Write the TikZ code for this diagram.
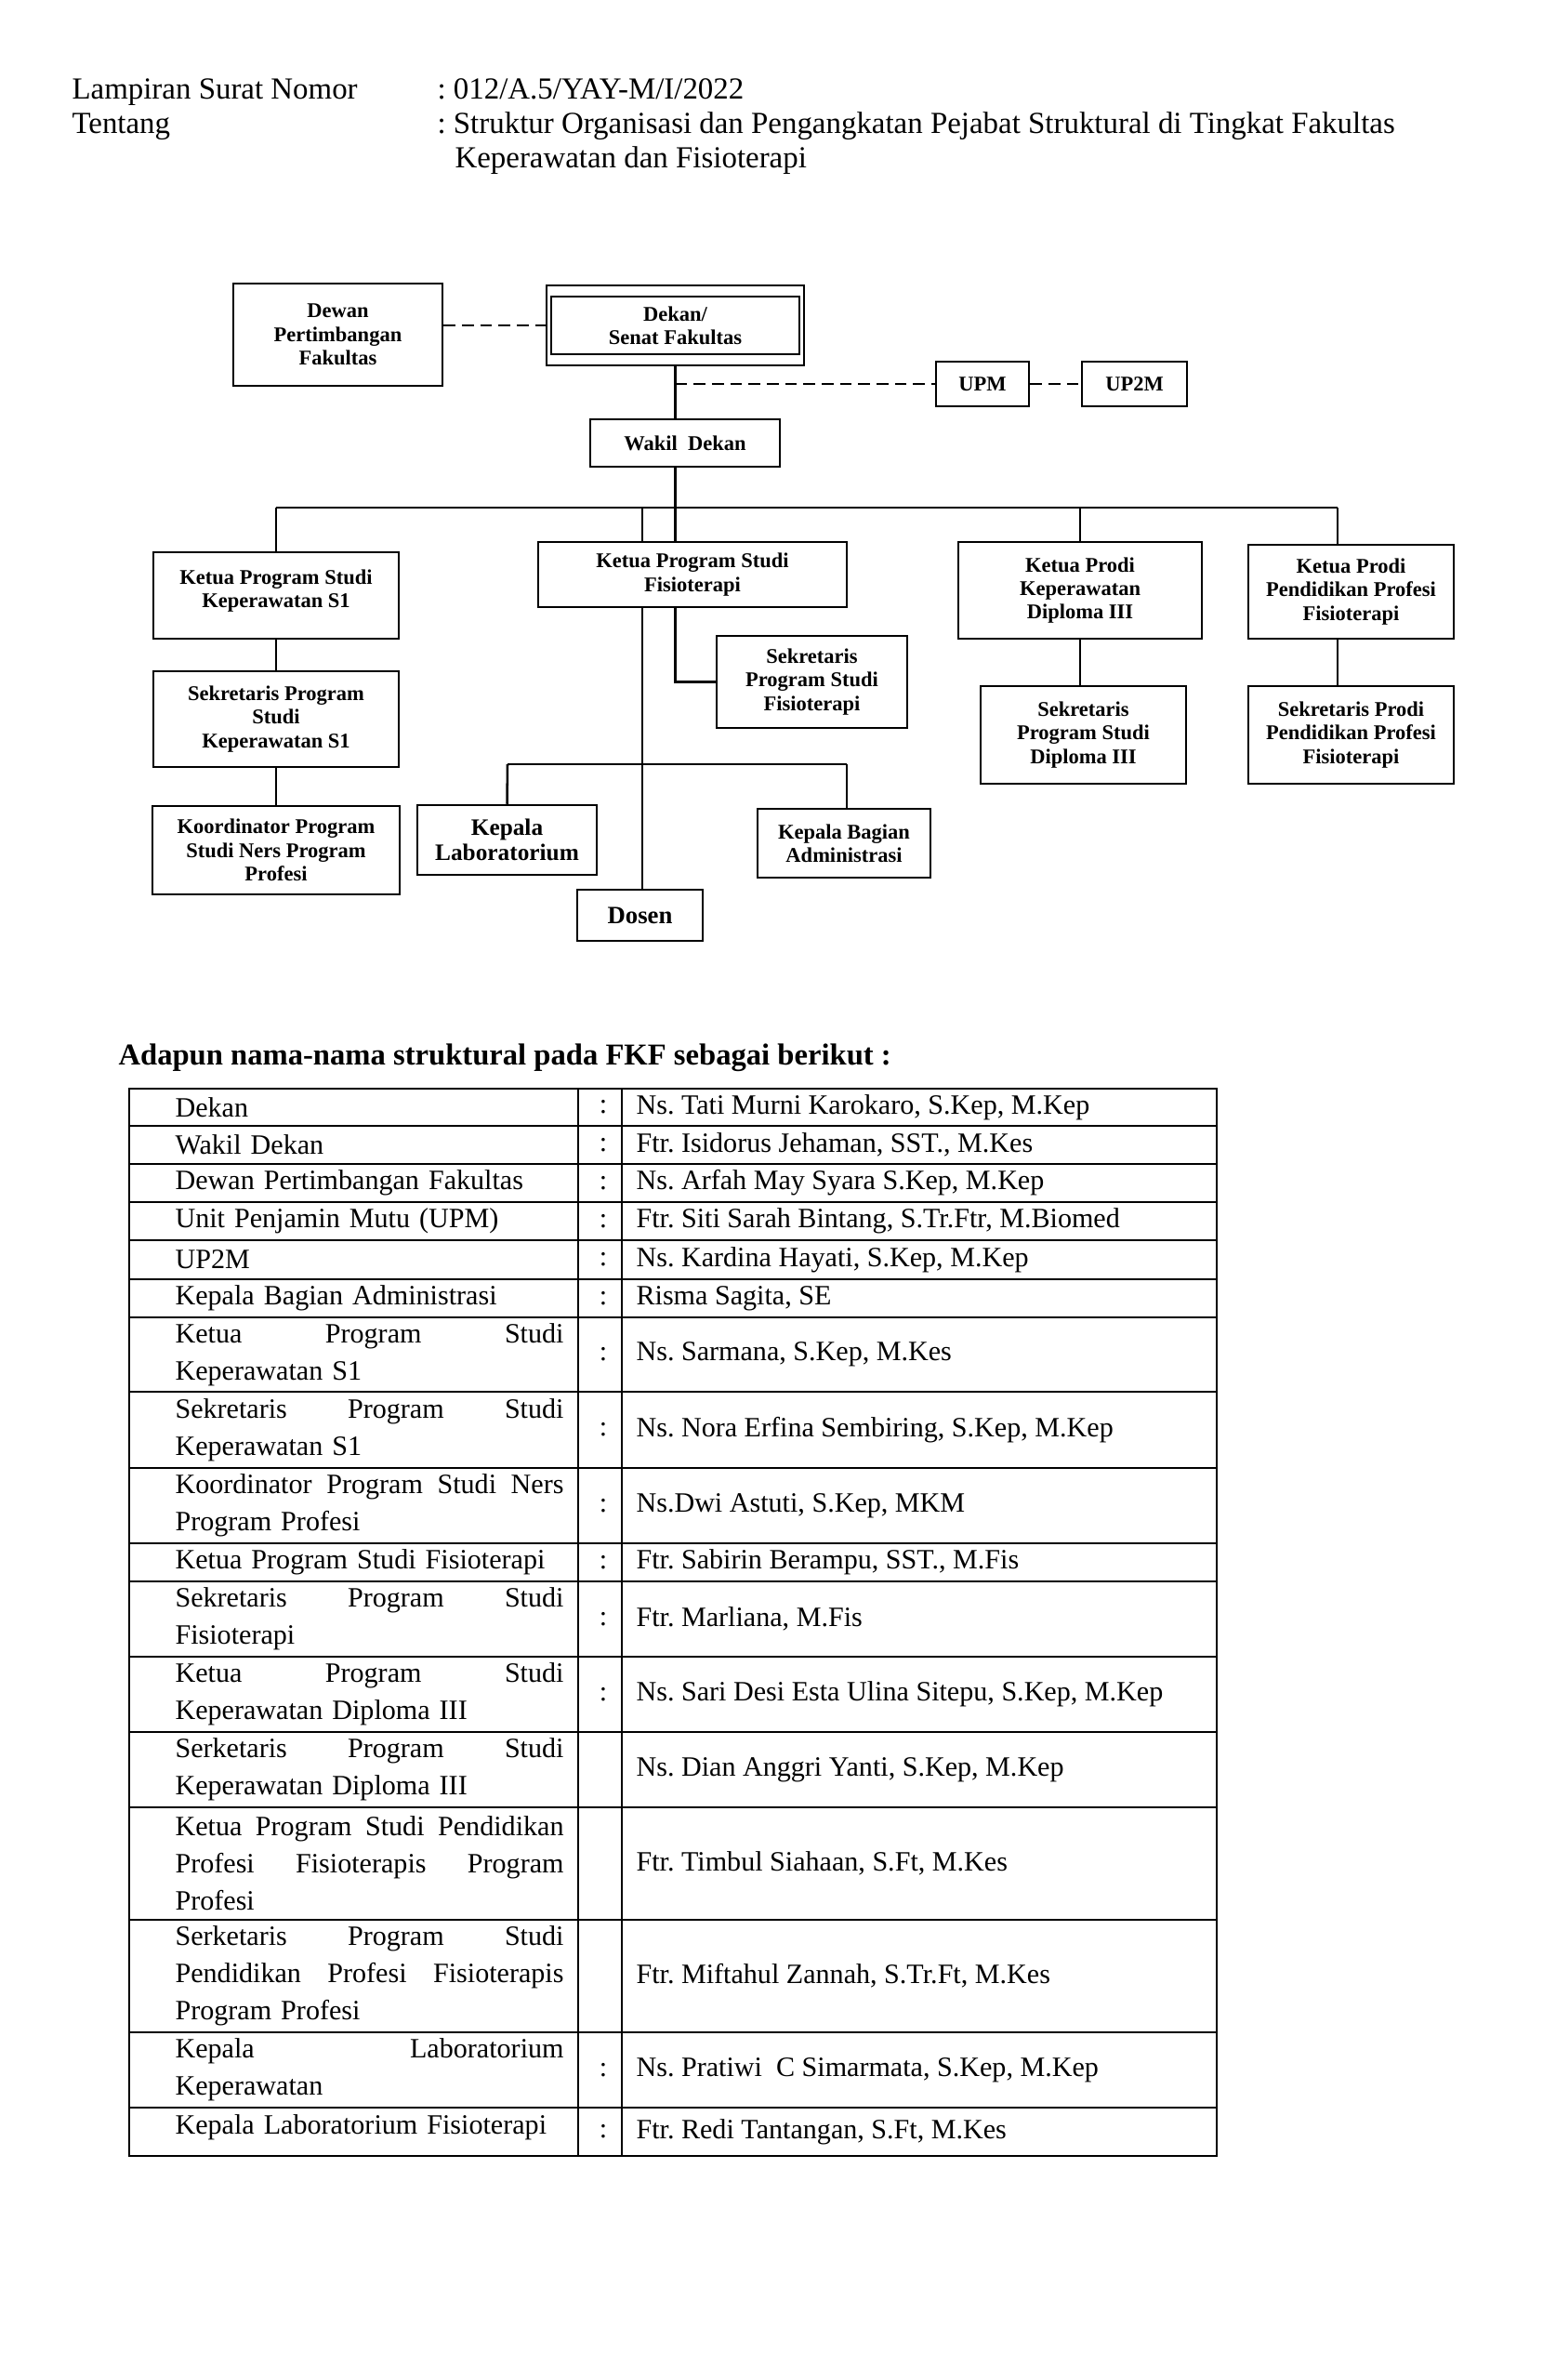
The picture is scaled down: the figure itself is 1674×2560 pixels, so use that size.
\documentclass[tikz,border=0pt]{standalone}
\usepackage{fontspec}
\setmainfont{Liberation Serif}
\usepackage{tikz}

\newcommand{\px}{0.3555pt}
\newcommand{\jline}[1]{\leavevmode\hbox to 148.6pt{#1}}

\begin{document}
\frenchspacing
\begin{tikzpicture}[
      x=0.3555pt, y=-0.3555pt,
      box/.style = {
        draw=black, line width=0.9pt, rectangle, inner sep=0pt,
        align=center, font=\fontsize{8}{9}\selectfont\bfseries
      },
      boxsize/.style 2 args = {minimum width=#1*\px, minimum height=#2*\px},
      link/.style = {draw=black, line width=0.9pt},
      dashlink/.style = {draw=black, line width=0.9pt, dash pattern=on 4.5pt off 2.5pt},
      rule/.style = {draw=black, line width=0.6pt},
      head/.style = {inner sep=0pt, anchor=base west, font=\fontsize{11.7}{14}\selectfont},
      plain/.style = {inner sep=0pt, font=\fontsize{10.7}{14.2}\selectfont},
      role/.style = {plain, anchor=west, text width=148.6pt, align=left},
      person/.style = {plain, anchor=west}
    ]

    \useasboundingbox (0,0) rectangle (1674,2560);

    % header
    \node[head] (lampiran) at (77,106) {Lampiran Surat Nomor};
    \node[head] (nomor)    at (470,106) {: 012/A.5/YAY-M/I/2022};
    \node[head] (tentang)  at (77,143) {Tentang};
    \node[head] (perihal)  at (470,143)
      {: Struktur Organisasi dan Pengangkatan Pejabat Struktural di Tingkat Fakultas};
    \node[head] (perihal2) at (489,180) {Keperawatan dan Fisioterapi};

    % chart
    \node[box, boxsize={225}{110}] (dewan)      at (363.5,360) {Dewan\\Pertimbangan\\Fakultas};
    \node[box, boxsize={267}{62}]  (dekan)      at (726.5,350) {Dekan/\\Senat Fakultas};
    \node[box, boxsize={277}{86}]  (dekanframe) at (726.5,350) {};
    \node[box, boxsize={100}{48}]  (upm)        at (1057,413) {UPM};
    \node[box, boxsize={113}{48}]  (uptwom)     at (1220.5,413) {UP2M};
    \node[box, boxsize={204}{51}]  (wakil)      at (737,476.5) {Wakil~ Dekan};

    \node[box, boxsize={264}{93}]  (ketuas1)    at (297,640.5) {Ketua Program Studi\\Keperawatan S1\\[-4pt]\mbox{}};
    \node[box, boxsize={332}{70}]  (ketuafisio) at (745,618) {Ketua Program Studi\\Fisioterapi};
    \node[box, boxsize={262}{104}] (ketuad3)    at (1162,635) {Ketua Prodi\\Keperawatan\\Diploma III};
    \node[box, boxsize={221}{101}] (ketuaprof)  at (1453.5,636.5) {Ketua Prodi\\Pendidikan Profesi\\Fisioterapi};

    \node[box, boxsize={264}{103}] (seks1)      at (297,773.5) {Sekretaris Program\\Studi\\Keperawatan S1};
    \node[box, boxsize={205}{99}]  (sekfisio)   at (873.5,733.5) {Sekretaris\\Program Studi\\Fisioterapi};
    \node[box, boxsize={221}{105}] (sekd3)      at (1165.5,790.5) {Sekretaris\\Program Studi\\Diploma III};
    \node[box, boxsize={221}{105}] (sekprof)    at (1453.5,790.5) {Sekretaris Prodi\\Pendidikan Profesi\\Fisioterapi};

    \node[box, boxsize={266}{95}]  (koord)      at (297,914.5) {Koordinator Program\\Studi Ners Program\\Profesi};
    \node[box, boxsize={193}{75}, font=\fontsize{9}{9.8}\selectfont\bfseries] (lab) at (545.5,903.5) {Kepala\\Laboratorium};
    \node[box, boxsize={135}{55}, font=\fontsize{9.5}{10}\selectfont\bfseries] (dosen) at (688.5,984.5) {Dosen};
    \node[box, boxsize={186}{74}]  (bagian)     at (908,907) {Kepala Bagian\\Administrasi};

    \coordinate (busl)   at (297,546);
    \coordinate (busr)   at (1439,546);
    \coordinate (fisiol) at (691,546);
    \coordinate (subl)   at (546,822);
    \coordinate (subr)   at (911,822);

    \draw[dashlink] (dekanframe.west -| dewan.east) -- (dekanframe.west);
    \draw[dashlink] (dekanframe.south |- upm.west) -- (upm.west);
    \draw[dashlink] (upm.east) -- (uptwom.west);

    \draw[link] (dekanframe.south) -- (dekanframe.south |- wakil.north);
    \draw[link] (dekanframe.south |- wakil.south) -- (dekanframe.south |- ketuafisio.north);
    \draw[link] (busl) -- (busr);
    \draw[link] (busl) -- (ketuas1.north);
    \draw[link] (fisiol) -- (fisiol |- ketuafisio.north);
    \draw[link] (ketuad3.north |- busl) -- (ketuad3.north);
    \draw[link] (busr) -- (busr |- ketuaprof.north);

    \draw[link] (ketuas1.south) -- (seks1.north);
    \draw[link] (seks1.south) -- (koord.north);
    \draw[link] (dekanframe.south |- ketuafisio.south) |- (sekfisio.west);
    \draw[link] (fisiol |- ketuafisio.south) -- (fisiol |- dosen.north);
    \draw[link] (subl) -- (subr);
    \draw[link] (subl) -- (lab.north);
    \draw[link] (subr) -- (subr |- bagian.north);
    \draw[link] (ketuad3.south) -- (ketuad3.south |- sekd3.north);
    \draw[link] (busr |- ketuaprof.south) -- (busr |- sekprof.north);

    % table of names
    \node[head, font=\fontsize{11.6}{14}\selectfont\bfseries] (adapun) at (127,1145)
      {Adapun nama-nama struktural pada FKF sebagai berikut :};

    \draw[rule] (139,1171) rectangle (1309,2319);
    \draw[rule] (622,1171) -- (622,2319);
    \draw[rule] (669,1171) -- (669,2319);
    \draw[rule] (139,1211) -- (1309,1211);
    \draw[rule] (139,1252) -- (1309,1252);
    \draw[rule] (139,1293) -- (1309,1293);
    \draw[rule] (139,1334) -- (1309,1334);
    \draw[rule] (139,1376) -- (1309,1376);
    \draw[rule] (139,1417) -- (1309,1417);
    \draw[rule] (139,1497) -- (1309,1497);
    \draw[rule] (139,1579) -- (1309,1579);
    \draw[rule] (139,1660) -- (1309,1660);
    \draw[rule] (139,1701) -- (1309,1701);
    \draw[rule] (139,1782) -- (1309,1782);
    \draw[rule] (139,1863) -- (1309,1863);
    \draw[rule] (139,1944) -- (1309,1944);
    \draw[rule] (139,2065) -- (1309,2065);
    \draw[rule] (139,2186) -- (1309,2186);
    \draw[rule] (139,2267) -- (1309,2267);

    \node[role] (role1) at (188,1191) {Dekan};
    \node[plain] (sep1) at (649,1191) {:};
    \node[person] (name1) at (684,1191) {Ns. Tati Murni Karokaro, S.Kep, M.Kep};

    \node[role] (role2) at (188,1231.5) {Wakil Dekan};
    \node[plain] (sep2) at (649,1231.5) {:};
    \node[person] (name2) at (684,1231.5) {Ftr. Isidorus Jehaman, SST., M.Kes};

    \node[role] (role3) at (188,1272.5) {Dewan Pertimbangan Fakultas};
    \node[plain] (sep3) at (649,1272.5) {:};
    \node[person] (name3) at (684,1272.5) {Ns. Arfah May Syara S.Kep, M.Kep};

    \node[role] (role4) at (188,1313.5) {Unit Penjamin Mutu (UPM)};
    \node[plain] (sep4) at (649,1313.5) {:};
    \node[person] (name4) at (684,1313.5) {Ftr. Siti Sarah Bintang, S.Tr.Ftr, M.Biomed};

    \node[role] (role5) at (188,1355) {UP2M};
    \node[plain] (sep5) at (649,1355) {:};
    \node[person] (name5) at (684,1355) {Ns. Kardina Hayati, S.Kep, M.Kep};

    \node[role] (role6) at (188,1396.5) {Kepala Bagian Administrasi};
    \node[plain] (sep6) at (649,1396.5) {:};
    \node[person] (name6) at (684,1396.5) {Risma Sagita, SE};

    \node[role] (role7) at (188,1457) {\jline{Ketua\hfill Program\hfill Studi}\\Keperawatan S1};
    \node[plain] (sep7) at (649,1457) {:};
    \node[person] (name7) at (684,1457) {Ns. Sarmana, S.Kep, M.Kes};

    \node[role] (role8) at (188,1538) {\jline{Sekretaris\hfill Program\hfill Studi}\\Keperawatan S1};
    \node[plain] (sep8) at (649,1538) {:};
    \node[person] (name8) at (684,1538) {Ns. Nora Erfina Sembiring, S.Kep, M.Kep};

    \node[role] (role9) at (188,1619.5) {\jline{Koordinator\hfill Program\hfill Studi\hfill Ners}\\Program Profesi};
    \node[plain] (sep9) at (649,1619.5) {:};
    \node[person] (name9) at (684,1619.5) {Ns.Dwi Astuti, S.Kep, MKM};

    \node[role] (role10) at (188,1680.5) {Ketua Program Studi Fisioterapi};
    \node[plain] (sep10) at (649,1680.5) {:};
    \node[person] (name10) at (684,1680.5) {Ftr. Sabirin Berampu, SST., M.Fis};

    \node[role] (role11) at (188,1741.5) {\jline{Sekretaris\hfill Program\hfill Studi}\\Fisioterapi};
    \node[plain] (sep11) at (649,1741.5) {:};
    \node[person] (name11) at (684,1741.5) {Ftr. Marliana, M.Fis};

    \node[role] (role12) at (188,1822.5) {\jline{Ketua\hfill Program\hfill Studi}\\Keperawatan Diploma III};
    \node[plain] (sep12) at (649,1822.5) {:};
    \node[person] (name12) at (684,1822.5) {Ns. Sari Desi Esta Ulina Sitepu, S.Kep, M.Kep};

    \node[role] (role13) at (188,1903.5) {\jline{Serketaris\hfill Program\hfill Studi}\\Keperawatan Diploma III};
    \node[person] (name13) at (684,1903.5) {Ns. Dian Anggri Yanti, S.Kep, M.Kep};

    \node[role] (role14) at (188,2004.5) {\jline{Ketua\hfill Program\hfill Studi\hfill Pendidikan}\\\jline{Profesi\hfill Fisioterapis\hfill Program}\\Profesi};
    \node[person] (name14) at (684,2004.5) {Ftr. Timbul Siahaan, S.Ft, M.Kes};

    \node[role] (role15) at (188,2125.5) {\jline{Serketaris\hfill Program\hfill Studi}\\\jline{Pendidikan\hfill Profesi\hfill Fisioterapis}\\Program Profesi};
    \node[person] (name15) at (684,2125.5) {Ftr. Miftahul Zannah, S.Tr.Ft, M.Kes};

    \node[role] (role16) at (188,2226.5) {\jline{Kepala\hfill Laboratorium}\\Keperawatan};
    \node[plain] (sep16) at (649,2226.5) {:};
    \node[person] (name16) at (684,2226.5) {Ns. Pratiwi~ C Simarmata, S.Kep, M.Kep};

    \node[role] (role17) at (188,2288) {Kepala Laboratorium Fisioterapi};
    \node[plain] (sep17) at (649,2293) {:};
    \node[person] (name17) at (684,2293) {Ftr. Redi Tantangan, S.Ft, M.Kes};

  \end{tikzpicture}
\end{document}
